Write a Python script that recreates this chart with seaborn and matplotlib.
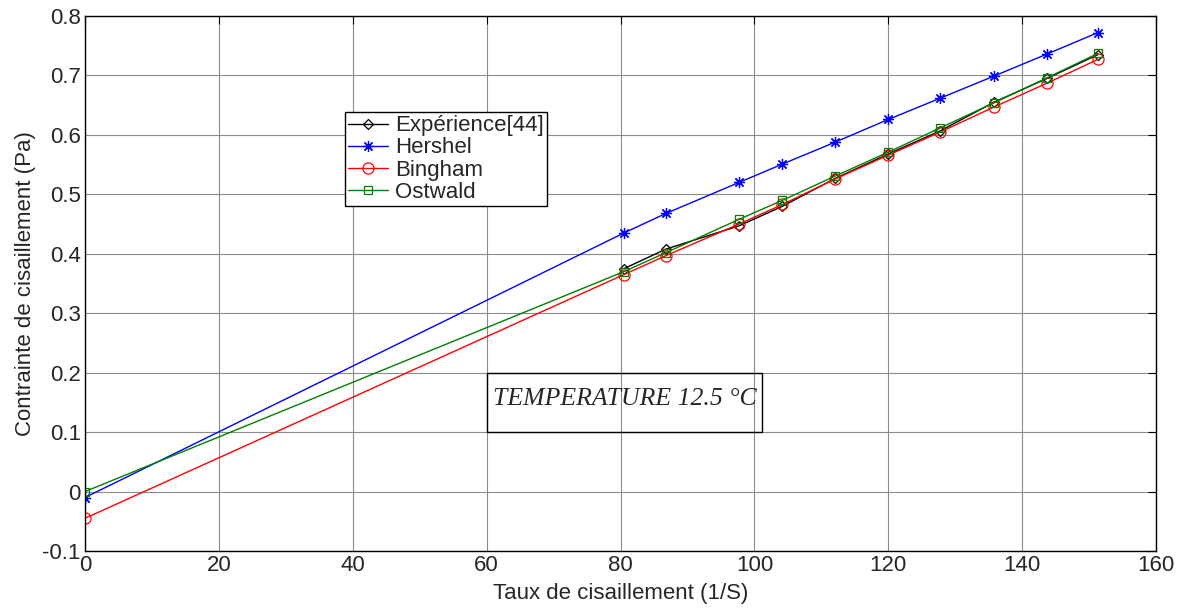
import pandas as pd
import matplotlib.pyplot as plt
import seaborn as sns
from matplotlib.patches import Rectangle

# shear rate values (1/S)
x_exp = [80.5, 86.8, 97.7, 104.2, 112.1, 120.0, 127.8, 135.8, 143.7, 151.3]
x_mod = [0.0] + x_exp

# shear stress values (Pa)
experience = [0.375, 0.408, 0.447, 0.480, 0.527, 0.568, 0.607, 0.655, 0.695, 0.735]
hershel = [-0.010, 0.435, 0.468, 0.520, 0.551, 0.588, 0.626, 0.662, 0.699, 0.736, 0.772]
bingham = [-0.045, 0.365, 0.397, 0.450, 0.483, 0.526, 0.566, 0.605, 0.647, 0.687, 0.727]
ostwald = [0.000, 0.370, 0.402, 0.458, 0.490, 0.531, 0.571, 0.612, 0.654, 0.696, 0.737]

sns.set_style('white')
plt.rcParams['font.family'] = ['Liberation Sans', 'DejaVu Sans']

fig = plt.figure(figsize=(11.87, 6.10), dpi=100)
ax = fig.add_axes([0.0716, 0.0967, 0.9023, 0.877])

series = [
    ('Expérience[44]', x_exp, experience, 'black', 'D', 5),
    ('Hershel', x_mod, hershel, 'blue', (8, 2, 0), 8),
    ('Bingham', x_mod, bingham, 'red', 'o', 8),
    ('Ostwald', x_mod, ostwald, 'green', 's', 6),
]

for name, xs, ys, col, mk, ms in series:
    df = pd.DataFrame({'x': xs, 'y': ys})
    sns.lineplot(data=df, x='x', y='y', ax=ax, color=col, marker=mk,
                 markersize=ms, markerfacecolor='none',
                 markeredgecolor=col, markeredgewidth=0.9, linewidth=1.0,
                 label=name, sort=False)

ax.set_xlim(0, 160)
ax.set_ylim(-0.1, 0.8)
ax.set_xticks(range(0, 161, 20))
ax.set_yticks([-0.1, 0, 0.1, 0.2, 0.3, 0.4, 0.5, 0.6, 0.7, 0.8])
ax.set_yticklabels(['-0.1', '0', '0.1', '0.2', '0.3', '0.4', '0.5', '0.6', '0.7', '0.8'])
ax.grid(True, color='#8c8c8c', linewidth=0.8)
ax.tick_params(direction='in', length=6, top=True, right=True, labelsize=16, pad=3, color='black')
for s in ax.spines.values():
    s.set_color('black')
    s.set_linewidth(1.0)

ax.set_xlabel('Taux de cisaillement (1/S)', fontsize=16, labelpad=5)
ax.set_ylabel('Contrainte de cisaillement (Pa)', fontsize=16, labelpad=5)

leg = ax.legend(loc='upper left', bbox_to_anchor=(0.2428, 0.8206), fontsize=16,
                frameon=True, fancybox=False, edgecolor='black', framealpha=1,
                handlelength=1.8, handletextpad=0.3, borderpad=0.15,
                labelspacing=0.05, borderaxespad=0)
leg.get_frame().set_linewidth(1.0)

# temperature box
ax.add_patch(Rectangle((60.06, 0.1003), 41.04, 0.0994, fill=False, edgecolor='black',
                       linewidth=1.0, zorder=5))
ax.text(80.7, 0.1458, 'TEMPERATURE 12.5 °C', fontsize=18.5, style='italic',
        family=['Liberation Serif', 'DejaVu Serif'], ha='center', va='baseline', zorder=6)

fig.savefig('out.png', dpi=100)
